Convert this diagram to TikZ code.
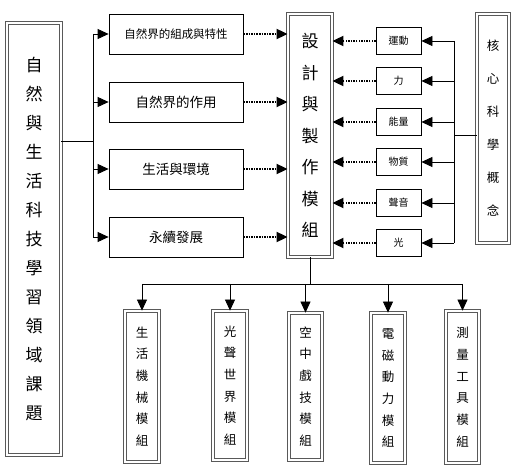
\documentclass[tikz,border=0pt]{standalone}
\usepackage{fontspec}
\setmainfont{Noto Sans CJK TC}
\usepackage{tikz}
\usetikzlibrary{positioning, arrows.meta}

\begin{document}
\begin{tikzpicture}[x=1pt, y=-1pt,
    box/.style={draw, line width=0.8pt, inner sep=0pt, align=center},
    dbox/.style={draw=gray!70!black, line width=0.8pt, double, double distance=1.6pt, inner sep=0pt, align=center},
    tri/.style={-{Triangle[length=11pt,width=10pt]}, line width=0.8pt},
    dots/.style={tri, dash pattern=on 1.5pt off 1.1pt, line width=1.8pt}]
  \useasboundingbox (0,0) rectangle (520,473);

  % left title
  \node[dbox, minimum width=54pt, minimum height=432pt, font=\fontsize{17}{29}\selectfont] (title) at (34,239)
    {自\\然\\與\\生\\活\\科\\技\\學\\習\\領\\域\\課\\題};

  % topics
  \node[box, minimum width=134pt, minimum height=40pt, font=\fontsize{11.5}{14}\selectfont] (t1) at (176,34) {自然界的組成與特性};
  \node[box, minimum width=134pt, minimum height=40pt, font=\fontsize{13.5}{16}\selectfont] (t2) at (176,102) {自然界的作用};
  \node[box, minimum width=134pt, minimum height=40pt, font=\fontsize{13.5}{16}\selectfont] (t3) at (176,169) {生活與環境};
  \node[box, minimum width=134pt, minimum height=40pt, font=\fontsize{13.5}{16}\selectfont] (t4) at (176,237) {永續發展};

  % design module
  \node[dbox, minimum width=44pt, minimum height=243pt, font=\fontsize{17}{31.5}\selectfont] (design) at (310,135.5)
    {設\\計\\與\\製\\作\\模\\組};

  % core concepts
  \node[box, minimum width=45pt, minimum height=27pt, font=\fontsize{10}{12}\selectfont] (s1) at (398.5,41) {運動};
  \node[box, minimum width=45pt, minimum height=27pt, font=\fontsize{10}{12}\selectfont] (s2) at (398.5,81) {力};
  \node[box, minimum width=45pt, minimum height=27pt, font=\fontsize{10}{12}\selectfont] (s3) at (398.5,122) {能量};
  \node[box, minimum width=45pt, minimum height=27pt, font=\fontsize{10}{12}\selectfont] (s4) at (398.5,162) {物質};
  \node[box, minimum width=45pt, minimum height=27pt, font=\fontsize{10}{12}\selectfont] (s5) at (398.5,203) {聲音};
  \node[box, minimum width=45pt, minimum height=27pt, font=\fontsize{10}{12}\selectfont] (s6) at (398.5,243) {光};

  \node[dbox, minimum width=32pt, minimum height=229pt, font=\fontsize{12.5}{33}\selectfont] (core) at (493,128.5)
    {核\\心\\科\\學\\概\\念};

  % modules
  \node[dbox, minimum width=34pt, minimum height=151pt, font=\fontsize{12.5}{21.7}\selectfont] (m1) at (142,386.5) {生\\活\\機\\械\\模\\組};
  \node[dbox, minimum width=34pt, minimum height=149pt, font=\fontsize{12.5}{21.7}\selectfont] (m2) at (230,385.5) {光\\聲\\世\\界\\模\\組};
  \node[dbox, minimum width=33pt, minimum height=147pt, font=\fontsize{12.5}{21.7}\selectfont] (m3) at (305.5,386.5) {空\\中\\戲\\技\\模\\組};
  \node[dbox, minimum width=34pt, minimum height=150pt, font=\fontsize{12.5}{21.7}\selectfont] (m4) at (388,388) {電\\磁\\動\\力\\模\\組};
  \node[dbox, minimum width=33pt, minimum height=152pt, font=\fontsize{12.5}{21.7}\selectfont] (m5) at (462.5,387) {測\\量\\工\\具\\模\\組};

  % left branch
  \coordinate (lbus) at (93,141);
  \draw[line width=0.8pt] (title.east |- lbus) -- (lbus);
  \draw[line width=0.8pt] (lbus |- t1) -- (lbus |- t4);
  \draw[tri] (lbus |- t1) -- (t1.west);
  \draw[tri] (lbus |- t2) -- (t2.west);
  \draw[tri] (lbus |- t3) -- (t3.west);
  \draw[tri] (lbus |- t4) -- (t4.west);

  % topics to design
  \draw[dots] (t1.east) -- (t1.east -| design.west);
  \draw[dots] (t2.east) -- (t2.east -| design.west);
  \draw[dots] (t3.east) -- (t3.east -| design.west);
  \draw[dots] (t4.east) -- (t4.east -| design.west);

  % concepts to design
  \draw[dots] (s1.west) -- (s1.west -| design.east);
  \draw[dots] (s2.west) -- (s2.west -| design.east);
  \draw[dots] (s3.west) -- (s3.west -| design.east);
  \draw[dots] (s4.west) -- (s4.west -| design.east);
  \draw[dots] (s5.west) -- (s5.west -| design.east);
  \draw[dots] (s6.west) -- (s6.west -| design.east);

  % right branch
  \coordinate (rbus) at (454,135);
  \draw[line width=0.8pt] (core.west |- rbus) -- (rbus);
  \draw[line width=0.8pt] (rbus |- s1) -- (rbus |- s6);
  \draw[tri] (rbus |- s1) -- (s1.east);
  \draw[tri] (rbus |- s2) -- (s2.east);
  \draw[tri] (rbus |- s3) -- (s3.east);
  \draw[tri] (rbus |- s4) -- (s4.east);
  \draw[tri] (rbus |- s5) -- (s5.east);
  \draw[tri] (rbus |- s6) -- (s6.east);

  % bottom branch
  \coordinate (bbus) at (310,284);
  \draw[line width=0.8pt] (design.south) -- (bbus);
  \draw[line width=0.8pt] (m1 |- bbus) -- (m5 |- bbus);
  \draw[tri] (m1 |- bbus) -- (m1.north);
  \draw[tri] (m2 |- bbus) -- (m2.north);
  \draw[tri] (m3 |- bbus) -- (m3.north);
  \draw[tri] (m4 |- bbus) -- (m4.north);
  \draw[tri] (m5 |- bbus) -- (m5.north);
\end{tikzpicture}
\end{document}
